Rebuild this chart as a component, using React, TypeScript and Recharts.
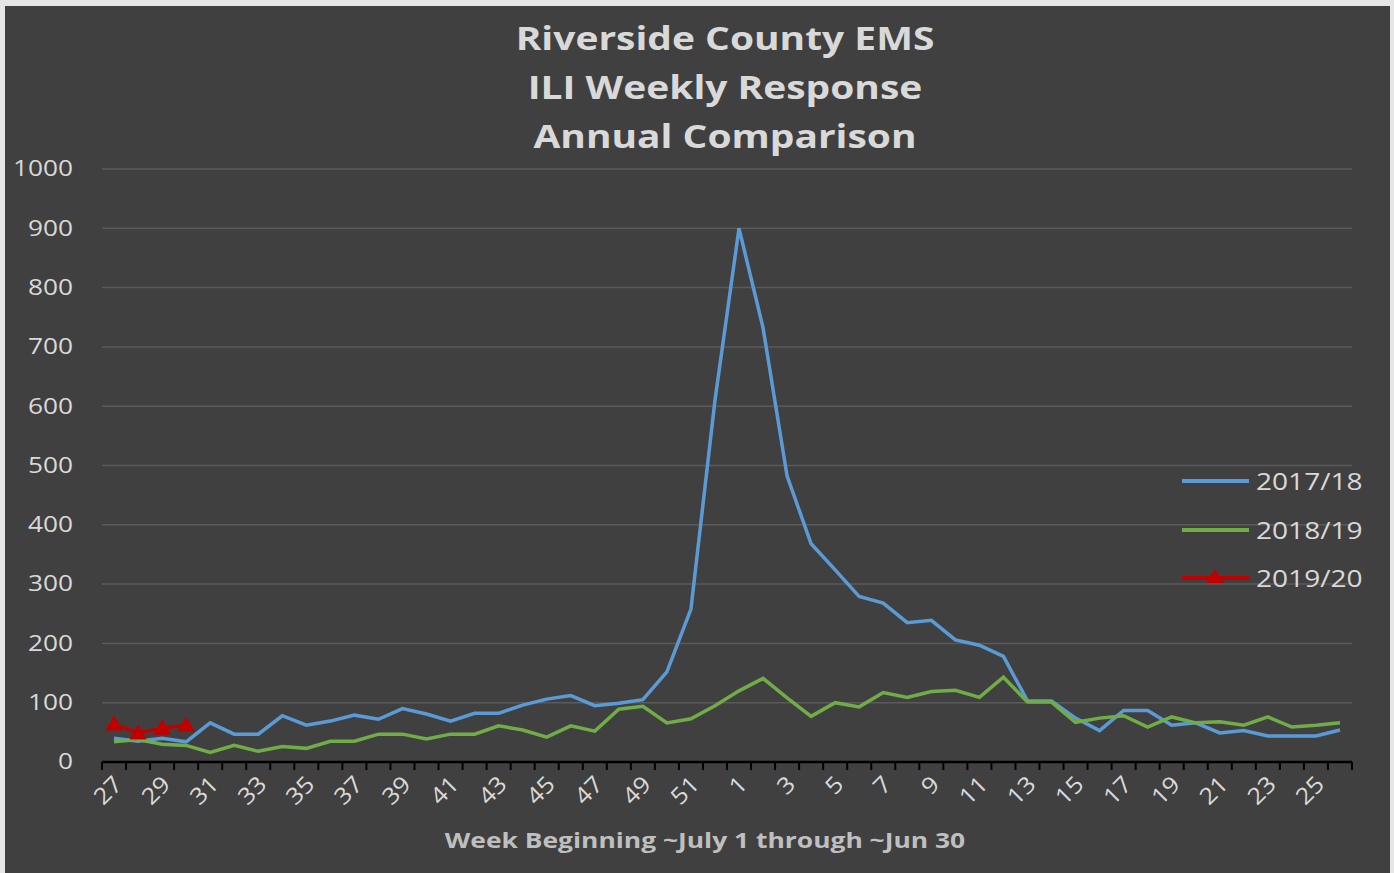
import React from "react";
import { LineChart, Line, XAxis, YAxis, CartesianGrid } from "recharts";

const weeks: string[] = [
  "27","28","29","30","31","32","33","34","35","36","37","38","39","40","41","42","43","44","45","46","47","48","49","50","51","52",
  "1","2","3","4","5","6","7","8","9","10","11","12","13","14","15","16","17","18","19","20","21","22","23","24","25","26",
];

const s2017: number[] = [
  40, 35, 40, 34, 66, 47, 47, 78, 62, 69, 79, 72, 90, 81, 69, 82, 82, 96, 106, 112, 95, 99, 105, 152, 258, 610,
  900, 732, 482, 368, 324, 279, 268, 235, 239, 206, 197, 178, 103, 103, 74, 53, 87, 87, 62, 66, 49, 53, 44, 44, 44, 54,
];

const s2018: number[] = [
  34, 38, 30, 28, 16, 28, 18, 26, 23, 35, 35, 47, 47, 39, 47, 47, 61, 54, 42, 61, 52, 89, 94, 66, 73, 95,
  120, 141, 108, 77, 100, 93, 117, 109, 119, 121, 109, 143, 101, 101, 67, 74, 78, 59, 76, 66, 68, 62, 76, 59, 62, 66,
];

const s2019: (number | null)[] = [64, 49, 57, 62];

const yTicks: number[] = [0, 100, 200, 300, 400, 500, 600, 700, 800, 900, 1000];

const seriesNames = ["2017/18", "2018/19", "2019/20"];
const colors = ["#5B9BD5", "#70AD47", "#C00000"];

const data = weeks.map((w, i) => ({
  week: w,
  a: s2017[i],
  b: s2018[i],
  c: i < s2019.length ? s2019[i] : null,
}));

const W = 1394;
const H = 873;
const M = { top: 169, right: 42, left: 0, bottom: 51 };
const Y_W = 102;
const X_H = 60;
const BAND = (W - M.right - Y_W) / weeks.length;
const TEXT = "#D9D9D9";
const FONT = "'Open Sans', 'DejaVu Sans', sans-serif";

const XTick = (props: any) => {
  const { x, y, payload } = props;
  const idx = payload.index ?? weeks.indexOf(String(payload.value));
  const last = idx === weeks.length - 1;
  return (
    <g>
      <line x1={x - BAND / 2} x2={x - BAND / 2} y1={y} y2={y + 8} stroke="#000" strokeWidth={2} />
      {last && <line x1={x + BAND / 2} x2={x + BAND / 2} y1={y} y2={y + 8} stroke="#000" strokeWidth={2} />}
      {idx % 2 === 0 && (
        <g transform={`translate(${x + 4},${y + 18})`}>
          <text
            textAnchor="end"
            dy="0.35em"
            transform="rotate(-45) scale(1.1,1)"
            fill={TEXT}
            fontSize={23}
            fontFamily={FONT}
          >
            {payload.value}
          </text>
        </g>
      )}
    </g>
  );
};

const YTick = (props: any) => {
  const { x, y, payload } = props;
  return (
    <g transform={`translate(${x - 29},${y})`}>
      <text textAnchor="end" dy="0.35em" transform="scale(1.25,1)" fill={TEXT} fontSize={21} fontFamily={FONT}>
        {payload.value}
      </text>
    </g>
  );
};

const TriDot = (props: any) => {
  const { cx, cy, index } = props;
  if (cx == null || cy == null || props.value == null) return <g key={`t${index}`} />;
  const s = 8;
  return (
    <polygon
      key={`t${index}`}
      points={`${cx},${cy - s} ${cx + s},${cy + s * 0.75} ${cx - s},${cy + s * 0.75}`}
      fill="#C00000"
      stroke="#C00000"
    />
  );
};

const Legend = () => (
  <div style={{ position: "absolute", left: 1181, top: 460, fontFamily: FONT }}>
    {seriesNames.map((n, i) => (
      <div key={n} style={{ position: "absolute", left: 0, top: i * 48.5, width: 220, height: 40 }}>
        <svg width={70} height={40} style={{ position: "absolute", left: 0, top: 0 }}>
          <line x1={1} x2={68} y1={21} y2={21} stroke={colors[i]} strokeWidth={4} />
          {i === 2 && <polygon points="34,12 43,26 25,26" fill={colors[i]} />}
        </svg>
        <div
          style={{
            position: "absolute",
            left: 75,
            top: 4,
            fontSize: 23,
            lineHeight: "34px",
            color: TEXT,
            whiteSpace: "nowrap",
            transform: "scaleX(1.22)",
            transformOrigin: "left center",
          }}
        >
          {n}
        </div>
      </div>
    ))}
  </div>
);

export default function App() {
  return (
    <div style={{ position: "absolute", left: 0, top: 0, width: W, height: H, background: "#e6e6e6", overflow: "hidden" }}>
      <div style={{ position: "absolute", left: 5, top: 6, width: 1385, height: 870, background: "#404040" }} />
      <div
        style={{
          position: "absolute",
          left: 425,
          top: 13,
          width: 600,
          textAlign: "center",
          color: TEXT,
          fontFamily: FONT,
          fontWeight: 700,
          fontSize: 33,
          lineHeight: "49px",
          transform: "scaleX(1.18)",
          transformOrigin: "center top",
        }}
      >
        <div>Riverside County EMS</div>
        <div>ILI Weekly Response</div>
        <div>Annual Comparison</div>
      </div>
      <div style={{ position: "absolute", left: 0, top: 0 }}>
        <LineChart width={W} height={H} data={data} margin={M}>
          <CartesianGrid horizontal vertical={false} stroke="#5A5A5A" strokeWidth={1.5} />
          <XAxis
            dataKey="week"
            scale="band"
            height={X_H}
            interval={0}
            tickLine={false}
            tickSize={0}
            tickMargin={0}
            axisLine={{ stroke: "#000", strokeWidth: 2.5 }}
            tick={<XTick />}
          />
          <YAxis
            width={Y_W}
            domain={[0, 1000]}
            ticks={yTicks}
            interval={0}
            axisLine={false}
            tickLine={false}
            tickSize={0}
            tickMargin={0}
            tick={<YTick />}
          />
          <Line dataKey="a" name={seriesNames[0]} type="linear" stroke={colors[0]} strokeWidth={3.5} dot={false} isAnimationActive={false} />
          <Line dataKey="b" name={seriesNames[1]} type="linear" stroke={colors[1]} strokeWidth={3.5} dot={false} isAnimationActive={false} />
          <Line dataKey="c" name={seriesNames[2]} type="linear" stroke={colors[2]} strokeWidth={3.5} dot={<TriDot />} isAnimationActive={false} />
        </LineChart>
      </div>
      <Legend />
      <div
        style={{
          position: "absolute",
          left: 405,
          top: 822,
          width: 600,
          textAlign: "center",
          color: "#BFBFBF",
          fontFamily: FONT,
          fontWeight: 700,
          fontSize: 22,
          lineHeight: "34px",
          transform: "scaleX(1.2)",
          transformOrigin: "center top",
        }}
      >
        Week Beginning ~July 1 through ~Jun 30
      </div>
    </div>
  );
}
